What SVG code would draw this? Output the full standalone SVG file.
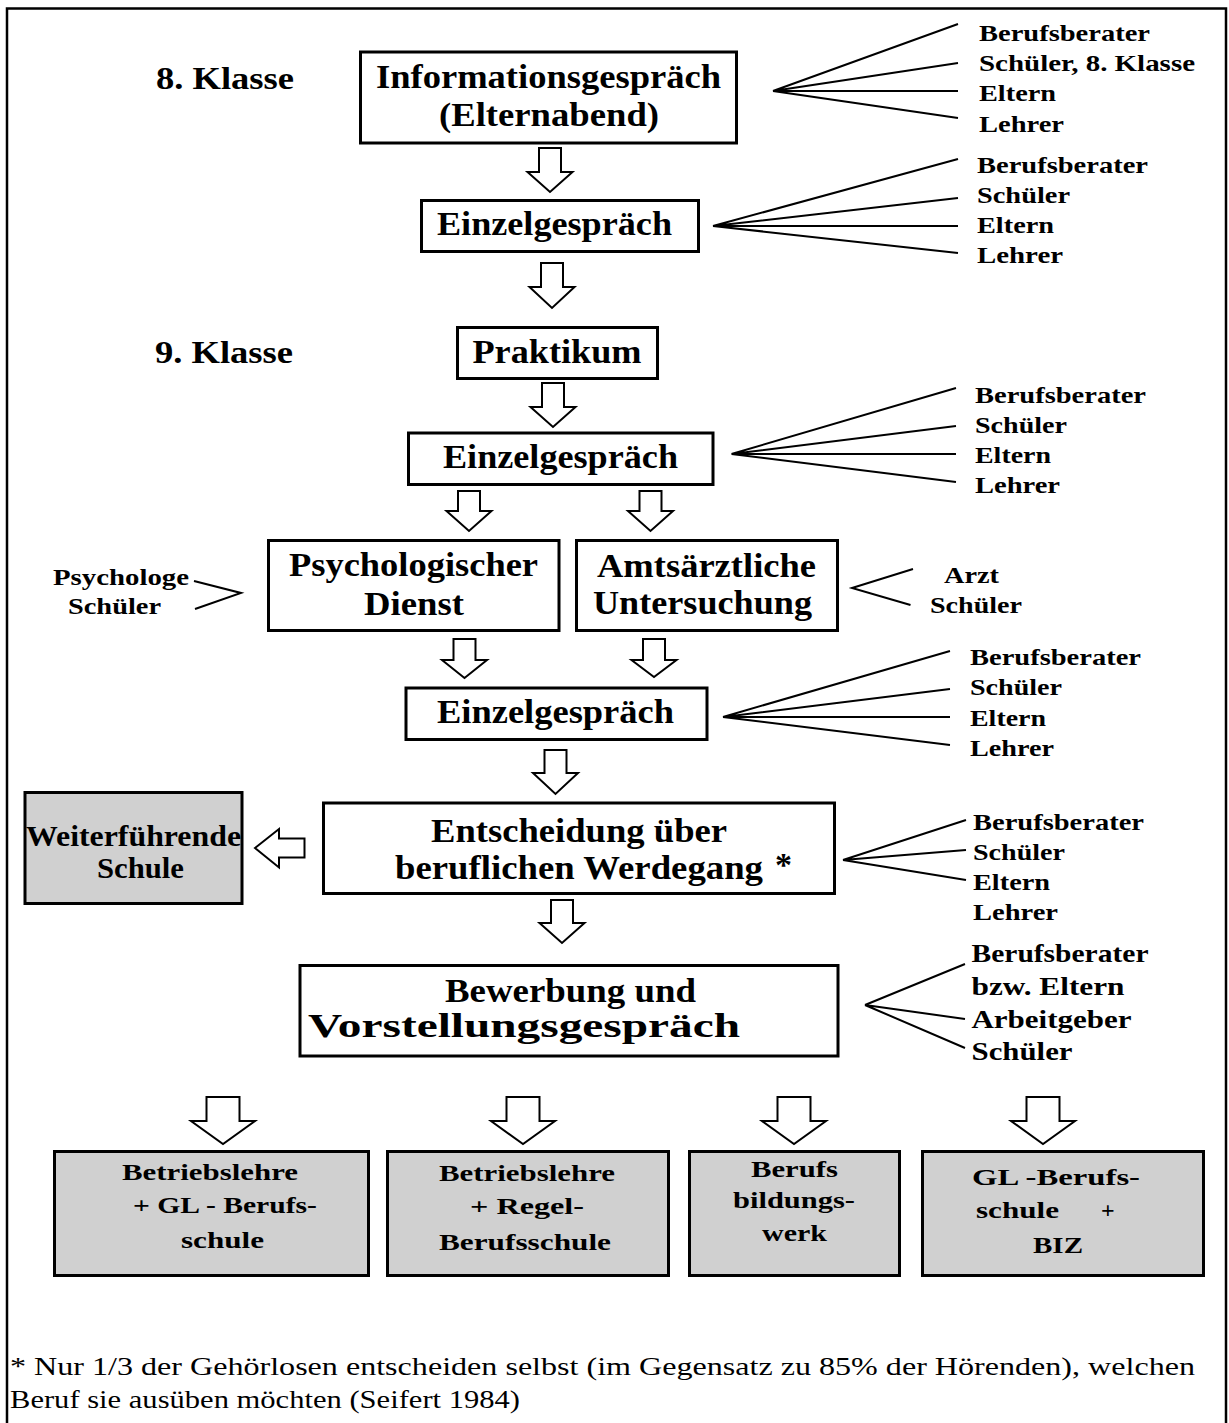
<svg xmlns="http://www.w3.org/2000/svg" width="1229" height="1423" viewBox="0 0 1229 1423" font-family="'Liberation Serif', Tinos, 'Times New Roman', Times, 'Nimbus Roman', 'Nimbus Roman No9 L', FreeSerif, serif">
<style>
.box{fill:#fff;stroke:#000;stroke-width:3}
.gbox{fill:#d0d0d0;stroke:#000;stroke-width:3}
.arr{fill:#fff;stroke:#000;stroke-width:2}
.fan{fill:none;stroke:#000;stroke-width:2}
text{font-family:'Liberation Serif',Tinos,'Times New Roman',Times,'Nimbus Roman','Nimbus Roman No9 L',FreeSerif,serif;fill:#000}
.b{font-weight:bold}
.h{font-size:34px}
.k{font-size:32px}
.s{font-size:24px}
.s6{font-size:26px}
.w{font-size:30px}
.fn{font-size:26px;font-weight:normal}
</style>
<rect x="7" y="8.5" width="1219" height="1440" fill="#fff" stroke="#000" stroke-width="2.5"/>

<g id="labels-klasse">
<text class="b k" x="156" y="89" textLength="138" lengthAdjust="spacingAndGlyphs">8. Klasse</text>
<text class="b k" x="155" y="363" textLength="138" lengthAdjust="spacingAndGlyphs">9. Klasse</text>
</g>

<g id="connectors">
<polygon class="arr" points="539,148 561,148 561,172 572.5,172 550,192 527.5,172 539,172"/>
<polygon class="arr" points="541,263 563,263 563,287 574.5,287 552,308 529.5,287 541,287"/>
<polygon class="arr" points="542,383 564,383 564,407 575.5,407 553,427 530.5,407 542,407"/>
<polygon class="arr" points="458,491 480,491 480,511 491.5,511 469,531 446.5,511 458,511"/>
<polygon class="arr" points="639.5,491 661.5,491 661.5,511 673,511 650.5,531 628,511 639.5,511"/>
<polygon class="arr" points="453.5,639 475.5,639 475.5,660 487,660 464.5,678 442,660 453.5,660"/>
<polygon class="arr" points="643,639 665,639 665,660 676.5,660 654,677 631.5,660 643,660"/>
<polygon class="arr" points="544.5,750 566.5,750 566.5,773 578,773 555.5,794 533,773 544.5,773"/>
<polygon class="arr" points="551,900 573,900 573,923 584.5,923 562,943 539.5,923 551,923"/>
<polygon class="arr" points="255,848 279,829 279,838.5 304.5,838.5 304.5,857.5 279,857.5 279,867.5"/>
<polygon class="arr" points="206.5,1097 239.5,1097 239.5,1121 255,1121 223,1144 191,1121 206.5,1121"/>
<polygon class="arr" points="506.5,1097 539.5,1097 539.5,1121 555,1121 523,1144 491,1121 506.5,1121"/>
<polygon class="arr" points="777.5,1097 810.5,1097 810.5,1121 826,1121 794,1144 762,1121 777.5,1121"/>
<polygon class="arr" points="1026.5,1097 1059.5,1097 1059.5,1121 1075,1121 1043,1144 1011,1121 1026.5,1121"/>
<g class="fan">
<path d="M773,91 L958,24 M773,91 L958,63 M773,91 L958,91 M773,91 L958,118"/>
<path d="M713,226 L958,159 M713,226 L958,198 M713,226 L958,226 M713,226 L958,253"/>
<path d="M731.5,454 L956,388 M731.5,454 L956,426 M731.5,454 L956,454 M731.5,454 L956,482"/>
<path d="M723,717 L950,651 M723,717 L950,689 M723,717 L950,717 M723,717 L950,745"/>
<path d="M843,860 L966,820 M843,860 L966,850 M843,860 L966,880"/>
<path d="M865,1005 L965,964 M865,1005 L965,1019 M865,1005 L965,1048"/>
<polyline points="194,581 241,593 195,609"/>
<polyline points="913,569 852,588 910.5,605"/>
</g>
</g>

<g id="node-informationsgespraech">
<rect class="box" x="360.5" y="52" width="376" height="91"/>
<text class="b h" x="376" y="88" textLength="345" lengthAdjust="spacingAndGlyphs">Informationsgespräch</text>
<text class="b h" x="439" y="126" textLength="220" lengthAdjust="spacingAndGlyphs">(Elternabend)</text>
</g>
<g id="roles-1">
<text class="b s" x="979" y="41" textLength="171" lengthAdjust="spacingAndGlyphs">Berufsberater</text>
<text class="b s" x="979" y="71" textLength="216" lengthAdjust="spacingAndGlyphs">Schüler, 8. Klasse</text>
<text class="b s" x="979" y="101" textLength="77" lengthAdjust="spacingAndGlyphs">Eltern</text>
<text class="b s" x="979" y="132" textLength="85" lengthAdjust="spacingAndGlyphs">Lehrer</text>
</g>

<g id="node-einzel-1">
<rect class="box" x="421.5" y="200.5" width="277" height="51"/>
<text class="b h" x="437" y="235" textLength="235" lengthAdjust="spacingAndGlyphs">Einzelgespräch</text>
</g>
<g id="roles-2">
<text class="b s" x="977" y="173" textLength="171" lengthAdjust="spacingAndGlyphs">Berufsberater</text>
<text class="b s" x="977" y="203" textLength="93" lengthAdjust="spacingAndGlyphs">Schüler</text>
<text class="b s" x="977" y="233" textLength="77" lengthAdjust="spacingAndGlyphs">Eltern</text>
<text class="b s" x="977" y="263" textLength="86" lengthAdjust="spacingAndGlyphs">Lehrer</text>
</g>

<g id="node-praktikum">
<rect class="box" x="457.5" y="327.5" width="200" height="51"/>
<text class="b h" x="472.5" y="363" textLength="169" lengthAdjust="spacingAndGlyphs">Praktikum</text>
</g>

<g id="node-einzel-2">
<rect class="box" x="408.5" y="433" width="304.5" height="51.5"/>
<text class="b h" x="443" y="468" textLength="235" lengthAdjust="spacingAndGlyphs">Einzelgespräch</text>
</g>
<g id="roles-3">
<text class="b s" x="975" y="403" textLength="171" lengthAdjust="spacingAndGlyphs">Berufsberater</text>
<text class="b s" x="975" y="433" textLength="92" lengthAdjust="spacingAndGlyphs">Schüler</text>
<text class="b s" x="975" y="463" textLength="76" lengthAdjust="spacingAndGlyphs">Eltern</text>
<text class="b s" x="975" y="493" textLength="85" lengthAdjust="spacingAndGlyphs">Lehrer</text>
</g>

<g id="node-psych">
<rect class="box" x="268.5" y="540.5" width="290.5" height="90"/>
<text class="b h" x="289" y="576" textLength="249" lengthAdjust="spacingAndGlyphs">Psychologischer</text>
<text class="b h" x="364" y="615" textLength="100" lengthAdjust="spacingAndGlyphs">Dienst</text>
</g>
<g id="roles-psych">
<text class="b s" x="53" y="585" textLength="136" lengthAdjust="spacingAndGlyphs">Psychologe</text>
<text class="b s" x="68" y="614" textLength="93" lengthAdjust="spacingAndGlyphs">Schüler</text>
</g>

<g id="node-amts">
<rect class="box" x="576.5" y="540.5" width="261" height="90"/>
<text class="b h" x="597" y="577" textLength="219" lengthAdjust="spacingAndGlyphs">Amtsärztliche</text>
<text class="b h" x="593" y="614" textLength="219" lengthAdjust="spacingAndGlyphs">Untersuchung</text>
</g>
<g id="roles-amts">
<text class="b s" x="944" y="583" textLength="55" lengthAdjust="spacingAndGlyphs">Arzt</text>
<text class="b s" x="930" y="613" textLength="92" lengthAdjust="spacingAndGlyphs">Schüler</text>
</g>

<g id="node-einzel-3">
<rect class="box" x="406" y="688" width="301" height="51.5"/>
<text class="b h" x="437" y="723" textLength="237" lengthAdjust="spacingAndGlyphs">Einzelgespräch</text>
</g>
<g id="roles-4">
<text class="b s" x="970" y="665" textLength="171" lengthAdjust="spacingAndGlyphs">Berufsberater</text>
<text class="b s" x="970" y="695" textLength="92" lengthAdjust="spacingAndGlyphs">Schüler</text>
<text class="b s" x="970" y="726" textLength="76" lengthAdjust="spacingAndGlyphs">Eltern</text>
<text class="b s" x="970" y="756" textLength="84" lengthAdjust="spacingAndGlyphs">Lehrer</text>
</g>

<g id="node-entscheidung">
<rect class="box" x="323.5" y="803" width="511" height="90.5"/>
<text class="b h" x="431" y="842" textLength="296" lengthAdjust="spacingAndGlyphs">Entscheidung über</text>
<text class="b h" x="395" y="879" textLength="368" lengthAdjust="spacingAndGlyphs">beruflichen Werdegang</text>
<text class="b h" x="775" y="876">*</text>
</g>
<g id="roles-5">
<text class="b s" x="973" y="830" textLength="171" lengthAdjust="spacingAndGlyphs">Berufsberater</text>
<text class="b s" x="973" y="860" textLength="92" lengthAdjust="spacingAndGlyphs">Schüler</text>
<text class="b s" x="973" y="890" textLength="77" lengthAdjust="spacingAndGlyphs">Eltern</text>
<text class="b s" x="973" y="920" textLength="85" lengthAdjust="spacingAndGlyphs">Lehrer</text>
</g>

<g id="node-weiterfuehrende">
<rect class="gbox" x="25" y="792.5" width="217" height="111"/>
<text class="b w" x="26" y="846" textLength="215" lengthAdjust="spacingAndGlyphs">Weiterführende</text>
<text class="b w" x="97" y="878" textLength="87" lengthAdjust="spacingAndGlyphs">Schule</text>
</g>

<g id="node-bewerbung">
<rect class="box" x="300" y="965.5" width="538" height="90.5"/>
<text class="b h" x="445" y="1002" textLength="251" lengthAdjust="spacingAndGlyphs">Bewerbung und</text>
<text class="b h" x="308" y="1037" textLength="432" lengthAdjust="spacingAndGlyphs">Vorstellungsgespräch</text>
</g>
<g id="roles-6">
<text class="b s6" x="971.5" y="962" textLength="177" lengthAdjust="spacingAndGlyphs">Berufsberater</text>
<text class="b s6" x="971.5" y="995" textLength="153" lengthAdjust="spacingAndGlyphs">bzw. Eltern</text>
<text class="b s6" x="971.5" y="1028" textLength="160" lengthAdjust="spacingAndGlyphs">Arbeitgeber</text>
<text class="b s6" x="971.5" y="1060" textLength="101" lengthAdjust="spacingAndGlyphs">Schüler</text>
</g>

<g id="node-betriebslehre-gl">
<rect class="gbox" x="54.5" y="1151.5" width="314" height="124"/>
<text class="b s" x="122" y="1180" textLength="176" lengthAdjust="spacingAndGlyphs">Betriebslehre</text>
<text class="b s" x="133" y="1213" textLength="184" lengthAdjust="spacingAndGlyphs">+ GL - Berufs-</text>
<text class="b s" x="181" y="1248" textLength="83" lengthAdjust="spacingAndGlyphs">schule</text>
</g>
<g id="node-betriebslehre-regel">
<rect class="gbox" x="387.5" y="1151.5" width="281" height="124"/>
<text class="b s" x="439" y="1181" textLength="176" lengthAdjust="spacingAndGlyphs">Betriebslehre</text>
<text class="b s" x="470" y="1214" textLength="114" lengthAdjust="spacingAndGlyphs">+ Regel-</text>
<text class="b s" x="439" y="1250" textLength="172" lengthAdjust="spacingAndGlyphs">Berufsschule</text>
</g>
<g id="node-berufsbildungswerk">
<rect class="gbox" x="689.5" y="1151.5" width="210" height="124"/>
<text class="b s" x="751" y="1177" textLength="87" lengthAdjust="spacingAndGlyphs">Berufs</text>
<text class="b s" x="733" y="1208" textLength="122" lengthAdjust="spacingAndGlyphs">bildungs-</text>
<text class="b s" x="762" y="1241" textLength="65" lengthAdjust="spacingAndGlyphs">werk</text>
</g>
<g id="node-gl-berufsschule-biz">
<rect class="gbox" x="922.5" y="1151.5" width="281" height="124"/>
<text class="b s" x="972" y="1185" textLength="168" lengthAdjust="spacingAndGlyphs">GL -Berufs-</text>
<text class="b s" x="976" y="1218"><tspan textLength="83" lengthAdjust="spacingAndGlyphs">schule</tspan> <tspan x="1101">+</tspan></text>
<text class="b s" x="1033" y="1253" textLength="50" lengthAdjust="spacingAndGlyphs">BIZ</text>
</g>

<g id="footnote">
<text class="fn" x="10" y="1375" textLength="1185" lengthAdjust="spacingAndGlyphs">* Nur 1/3 der Gehörlosen entscheiden selbst (im Gegensatz zu 85% der Hörenden), welchen</text>
<text class="fn" x="10" y="1408" textLength="510" lengthAdjust="spacingAndGlyphs">Beruf sie ausüben möchten (Seifert 1984)</text>
</g>
</svg>
